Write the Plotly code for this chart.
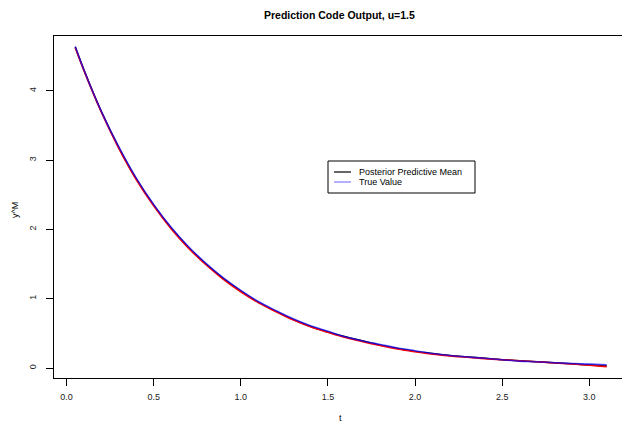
import plotly.graph_objects as go

t = [0.05, 0.1, 0.2, 0.3, 0.4, 0.5, 0.6, 0.7, 0.8, 0.9, 1.0, 1.1, 1.2, 1.3, 1.4, 1.5,
     1.6, 1.7, 1.8, 1.9, 2.0, 2.1, 2.2, 2.3, 2.4, 2.5, 2.6, 2.7, 2.8, 2.9, 3.0, 3.1]
true_value = [4.64, 4.30, 3.70, 3.19, 2.74, 2.36, 2.03, 1.75, 1.51, 1.30, 1.12, 0.96,
              0.83, 0.71, 0.61, 0.53, 0.45, 0.39, 0.34, 0.29, 0.25, 0.21, 0.18, 0.16,
              0.14, 0.12, 0.10, 0.09, 0.075, 0.065, 0.056, 0.048]
post_mean = [4.63, 4.30, 3.70, 3.18, 2.73, 2.35, 2.02, 1.74, 1.50, 1.29, 1.11, 0.95,
             0.82, 0.70, 0.60, 0.52, 0.45, 0.39, 0.33, 0.28, 0.24, 0.21, 0.18, 0.16,
             0.14, 0.12, 0.105, 0.09, 0.075, 0.06, 0.045, 0.03]
red_line = [4.62, 4.29, 3.69, 3.17, 2.72, 2.34, 2.01, 1.73, 1.49, 1.28, 1.10, 0.945,
            0.815, 0.695, 0.595, 0.515, 0.44, 0.38, 0.325, 0.275, 0.235, 0.20, 0.175, 0.155,
            0.135, 0.12, 0.105, 0.09, 0.073, 0.057, 0.04, 0.02]

x_ticks = [0.0, 0.5, 1.0, 1.5, 2.0, 2.5, 3.0]
x_tick_labels = ["0.0", "0.5", "1.0", "1.5", "2.0", "2.5", "3.0"]
y_ticks = [0, 1, 2, 3, 4]
y_tick_labels = ["0", "1", "2", "3", "4"]
legend_labels = ["Posterior Predictive Mean", "True Value"]
legend_colors = ["black", "rgba(80,80,255,0.75)"]

FONT = "Liberation Sans, Arial, Helvetica, sans-serif"

W, H = 622, 422
ML, MR, MT, MB = 54, 0, 36, 44
PW, PH = W - ML - MR, H - MT - MB

def px(x):
    return (x - ML) / PW
def py(y):
    return (H - MB - y) / PH

fig = go.Figure()
fig.add_trace(go.Scatter(x=t, y=post_mean, mode="lines", line=dict(color="black", width=1.5, shape="spline"), showlegend=False))
fig.add_trace(go.Scatter(x=t, y=red_line, mode="lines", line=dict(color="red", width=1.6, shape="spline"), showlegend=False))
fig.add_trace(go.Scatter(x=t, y=true_value, mode="lines", line=dict(color="rgba(0,0,255,0.7)", width=1.6, shape="spline"), showlegend=False))

lx0, lx1 = 328, 475
ly0, ly1 = 161, 193
shapes = [dict(type="rect", xref="paper", yref="paper", x0=px(lx0), x1=px(lx1), y0=py(ly1), y1=py(ly0),
               line=dict(color="black", width=1), fillcolor="white", layer="above")]
annotations = []
rows = [172, 182]
for lab, col, yy in zip(legend_labels, legend_colors, rows):
    shapes.append(dict(type="line", xref="paper", yref="paper", x0=px(334), x1=px(351), y0=py(yy), y1=py(yy),
                       line=dict(color=col, width=1.2), layer="above"))
    annotations.append(dict(text=lab, xref="paper", yref="paper", x=px(357), y=py(yy), xanchor="left", yanchor="middle",
                            showarrow=False, font=dict(family=FONT, size=9, color="black")))

annotations.append(dict(text="<b>Prediction Code Output, u=1.5</b>", xref="paper", yref="paper", x=px(339), y=py(15),
                        xanchor="center", yanchor="middle", showarrow=False, font=dict(family=FONT, size=10.5, color="black")))
annotations.append(dict(text="t", xref="paper", yref="paper", x=px(340), y=py(418), xanchor="center", yanchor="middle",
                        showarrow=False, font=dict(family=FONT, size=9, color="black")))
annotations.append(dict(text="y^M", xref="paper", yref="paper", x=px(15), y=py(210), xanchor="center", yanchor="middle",
                        textangle=-90, showarrow=False, font=dict(family=FONT, size=9, color="black")))

fig.update_layout(
    width=W, height=H,
    margin=dict(l=ML, r=MR, t=MT, b=MB),
    paper_bgcolor="white", plot_bgcolor="white",
    shapes=shapes, annotations=annotations,
    showlegend=False,
    font=dict(family=FONT, size=9, color="black"),
)
fig.update_xaxes(range=[-0.072, 3.188], tickvals=x_ticks, ticktext=x_tick_labels, ticks="outside", ticklen=7,
                 tickcolor="black", showgrid=False, zeroline=False, showline=True, linecolor="black", linewidth=1,
                 mirror=True, ticklabelstandoff=3, tickfont=dict(family=FONT, size=9, color="#222"))
fig.update_yaxes(range=[-0.144, 4.79], tickvals=y_ticks, ticktext=y_tick_labels, ticks="outside", ticklen=7,
                 tickcolor="black", showgrid=False, zeroline=False, showline=True, linecolor="black", linewidth=1,
                 tickangle=-90, ticklabelstandoff=6, tickfont=dict(family=FONT, size=9, color="#222"))

fig.write_html("out.html", config={"displayModeBar": False})

# remove default page margin so the figure sits at the window origin
with open("out.html", "r", encoding="utf-8") as f:
    html = f.read()
html = html.replace("<body>", '<body style="margin:0;padding:0;overflow:hidden">', 1)
with open("out.html", "w", encoding="utf-8") as f:
    f.write(html)
